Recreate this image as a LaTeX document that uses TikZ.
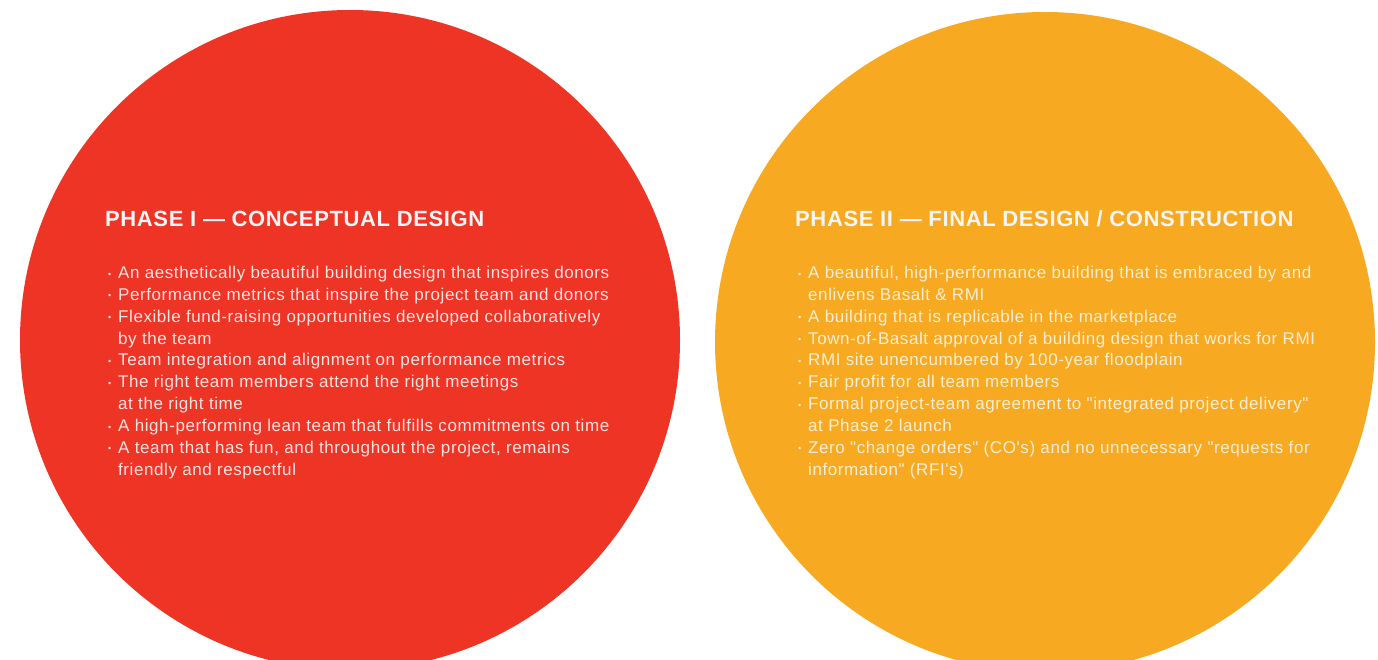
\documentclass[tikz,border=0pt]{standalone}
\usepackage{fontspec}
\setmainfont{Liberation Sans}
\newfontfamily\titlefont[LetterSpace=2.8]{Liberation Sans}
\newfontfamily\goalfont[LetterSpace=3.4]{Liberation Sans}
\usetikzlibrary{positioning}
\definecolor{phasered}{RGB}{238,52,36}
\definecolor{phaseorange}{RGB}{247,170,33}
% small square-ish bullet hung in front of a line
\newcommand{\pbul}{\llap{\raisebox{1.4pt}{\fontsize{9}{9}\selectfont •}\hspace{7pt}}}

\begin{document}
\begin{tikzpicture}[x=1pt,y=-1pt,
		disc/.style={circle, minimum size=660pt, inner sep=0pt},
		phasetitle/.style={anchor=base west, inner sep=0pt, text=white!96!black,
			font=\titlefont\fontsize{22}{26}\selectfont\bfseries},
		goals/.style={anchor=north west, inner sep=0pt, align=left,
			font=\goalfont\fontsize{17}{21.85}\selectfont}
	]
	\useasboundingbox (0,0) rectangle (1378,660);
	\clip (0,0) rectangle (1378,660);
	
	% the two phases
	\node[disc, fill=phasered]    (phaseone) at (350,340)  {};
	\node[disc, fill=phaseorange] (phasetwo) at (1045,342) {};
	
	% Phase I
	\node[phasetitle] (titleone) at (105,227) {PHASE I — CONCEPTUAL DESIGN};
	\node[goals, text=white!86!phasered] (goalsone) at (118,266) {%
		\pbul An aesthetically beautiful building design that inspires donors\\
		\pbul Performance metrics that inspire the project team and donors\\
		\pbul Flexible fund-raising opportunities developed collaboratively\\
		by the team\\
		\pbul Team integration and alignment on performance metrics\\
		\pbul The right team members attend the right meetings\\
		at the right time\\
		\pbul A high-performing lean team that fulfills commitments on time\\
		\pbul A team that has fun, and throughout the project, remains\\
		friendly and respectful};
	
	% Phase II
	\node[phasetitle] (titletwo) at (795,227) {PHASE II — FINAL DESIGN / CONSTRUCTION};
	\node[goals, text=white!80!phaseorange] (goalstwo) at (808,266) {%
		\pbul A beautiful, high-performance building that is embraced by and\\
		enlivens Basalt \& RMI\\
		\pbul A building that is replicable in the marketplace\\
		\pbul Town-of-Basalt approval of a building design that works for RMI\\
		\pbul RMI site unencumbered by 100-year floodplain\\
		\pbul Fair profit for all team members\\
		\pbul Formal project-team agreement to "integrated project delivery"\\
		at Phase 2 launch\\
		\pbul Zero "change orders" (CO's) and no unnecessary "requests for\\
		information" (RFI's)};
\end{tikzpicture}
\end{document}
